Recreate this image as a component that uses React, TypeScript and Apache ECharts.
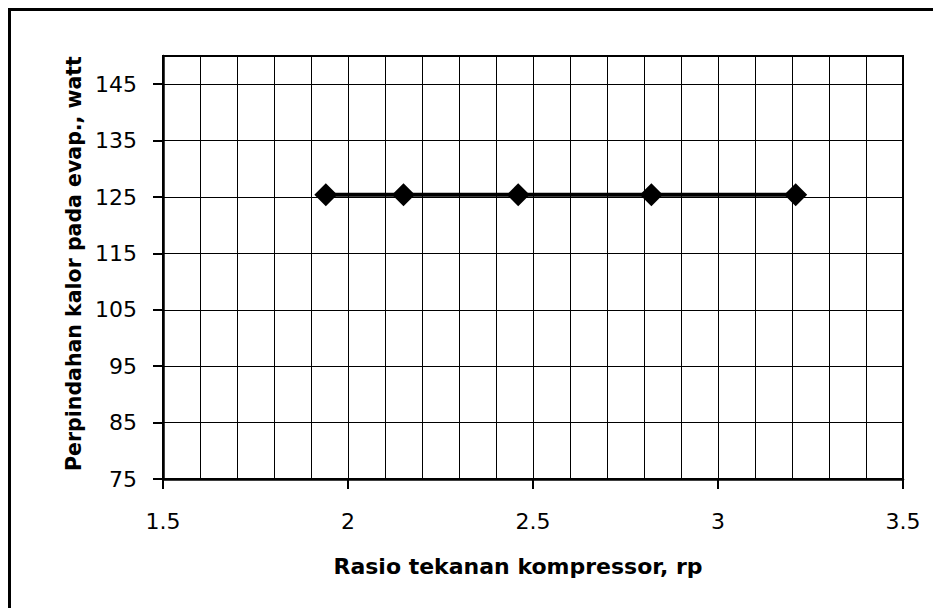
import React, { useEffect, useRef } from "react";
import * as echarts from "echarts";

const xValues = [1.94, 2.15, 2.46, 2.82, 3.21];
const yValues = [125.4, 125.4, 125.4, 125.4, 125.4];
const yTickValues = [75, 85, 95, 105, 115, 125, 135, 145];
const xTitle = "Rasio tekanan kompressor, rp";
const yTitle = "Perpindahan kalor pada evap., watt";

const FONT = "DejaVu Sans";

export default function App() {
  const ref = useRef<HTMLDivElement>(null);
  useEffect(() => {
    if (!ref.current) return;
    const chart = echarts.init(ref.current, undefined, { renderer: "svg" });
    chart.setOption({
      animation: false,
      backgroundColor: "#fff",
      grid: {
        left: 163,
        top: 56,
        right: 30,
        bottom: 129,
        show: true,
        borderColor: "#000",
        borderWidth: 2,
        backgroundColor: "transparent",
      },
      graphic: [
        {
          type: "rect",
          shape: { x: 9.5, y: 9.5, width: 2000, height: 2000 },
          style: { fill: "none", stroke: "#000", lineWidth: 3 },
          silent: true,
          z: 100,
        },
      ],
      xAxis: {
        type: "value",
        min: 1.5,
        max: 3.5,
        interval: 0.5,
        name: xTitle,
        nameLocation: "middle",
        nameGap: 76,
        nameTextStyle: {
          fontFamily: FONT,
          fontWeight: "bold",
          fontSize: 22,
          color: "#000",
          padding: [0, 30, 0, 0],
        },
        axisLine: { show: true, onZero: false, lineStyle: { color: "#000", width: 2.5 } },
        axisTick: { show: true, length: 10, inside: false, lineStyle: { color: "#000", width: 2 } },
        axisLabel: { fontFamily: FONT, fontSize: 22, color: "#000", margin: 31 },
        splitLine: { show: true, lineStyle: { color: "#000", width: 1 } },
        minorTick: { show: false, splitNumber: 5 },
        minorSplitLine: { show: true, lineStyle: { color: "#000", width: 1 } },
      },
      yAxis: {
        type: "value",
        min: 75,
        max: 150,
        name: yTitle,
        nameLocation: "middle",
        nameGap: 78,
        nameTextStyle: {
          fontFamily: FONT,
          fontWeight: "bold",
          fontSize: 20.5,
          color: "#000",
          padding: [0, 0, 0, 8],
        },
        axisLine: { show: true, onZero: false, lineStyle: { color: "#000", width: 2.5 } },
        axisTick: {
          show: true,
          length: 10,
          customValues: yTickValues,
          lineStyle: { color: "#000", width: 2 },
        },
        axisLabel: {
          fontFamily: FONT,
          fontSize: 22,
          color: "#000",
          margin: 26,
          customValues: yTickValues,
        },
        splitLine: { show: false },
      },
      series: [
        {
          type: "line",
          data: xValues.map((x, i) => [x, yValues[i]]),
          symbol: "diamond",
          symbolSize: 23,
          showSymbol: true,
          itemStyle: { color: "#000" },
          lineStyle: { color: "#000", width: 4 },
          z: 10,
          markLine: {
            silent: true,
            symbol: "none",
            label: { show: false },
            lineStyle: { color: "#000", width: 1, type: "solid" },
            data: yTickValues.slice(1).map((v) => ({ yAxis: v })),
            z: 1,
          },
        },
      ],
    });
    return () => chart.dispose();
  }, []);
  return (
    <div
      ref={ref}
      style={{ position: "fixed", left: 0, top: 0, width: 933, height: 608, background: "#fff" }}
    />
  );
}
